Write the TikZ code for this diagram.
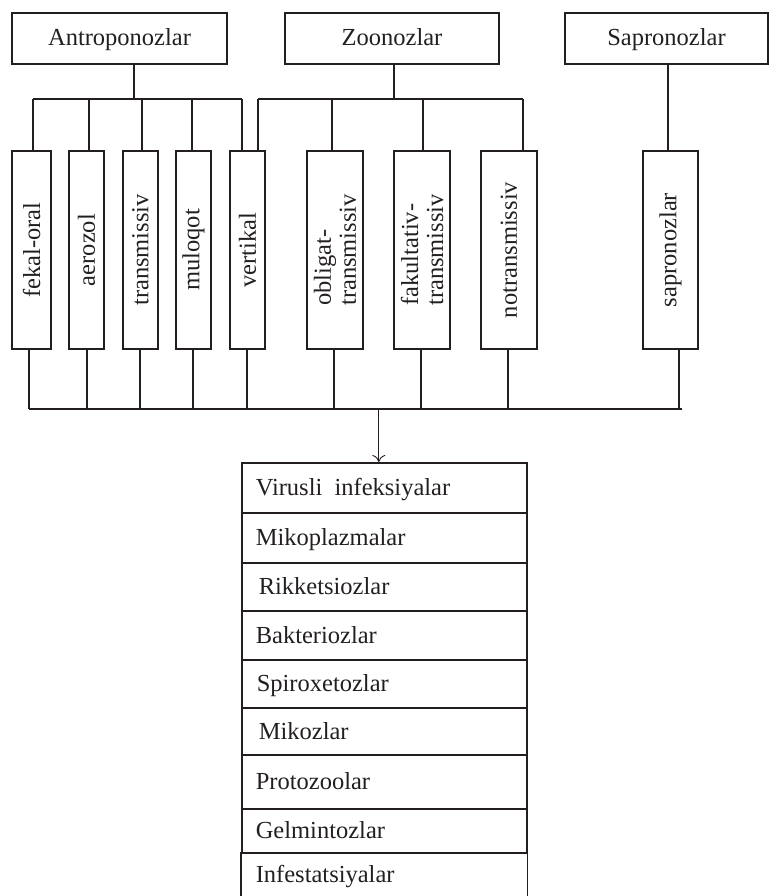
\documentclass[tikz,border=0pt]{standalone}
\usepackage{fontspec}
\setmainfont{Liberation Serif}
\usetikzlibrary{arrows.meta}
\definecolor{ink}{HTML}{231F20}
\begin{document}
\begin{tikzpicture}[x=1pt,y=-1pt,
  every node/.style={font=\fontsize{24.5}{25}\selectfont, text=ink},
  topbox/.style={draw=ink, line width=1.6pt, minimum height=51pt, inner sep=0pt, text height=18pt, text depth=3pt},
  vbox/.style={draw=ink, line width=1.6pt, minimum width=198pt, inner sep=0pt, rotate=90, align=left},
  rowbox/.style={draw=ink, line width=1.6pt, minimum width=285pt, text width=257pt, inner xsep=14pt, inner ysep=0pt, align=left, anchor=north west, text height=18pt, text depth=2pt},
  conn/.style={draw=ink, line width=1.6pt},
  arr/.style={draw=ink, line width=0.9pt, -{To[length=7pt,width=13pt]}}
]
\useasboundingbox (0,0) rectangle (769,896);

% top boxes
\node[topbox, minimum width=215pt] (A) at (119.5,38.5) {Antroponozlar};
\node[topbox, minimum width=214pt] (Z) at (392,38.5) {Zoonozlar};
\node[topbox, minimum width=203pt] (S) at (666.5,38.5) {Sapronozlar};

% vertical boxes (minimum height = box width after rotation)
\node[vbox, minimum height=39pt] (fek) at (31.5,250) {fekal-oral};
\node[vbox, minimum height=35pt] (aer) at (86.5,250) {aerozol};
\node[vbox, minimum height=35pt] (tra) at (140.5,250) {transmissiv};
\node[vbox, minimum height=35pt] (mul) at (193.5,250) {muloqot};
\node[vbox, minimum height=35pt] (ver) at (247.5,250) {vertikal};
\node[vbox, minimum height=56pt] (obl) at (335,250) {obligat-\\transmissiv};
\node[vbox, minimum height=56pt] (fak) at (422,250) {fakultativ-\\transmissiv};
\node[vbox, minimum height=56pt] (not) at (509,250) {notransmissiv};
\node[vbox, minimum height=55pt] (sap) at (670.5,250) {sapronozlar};

% bus coordinates
\coordinate (busA) at (0,99);
\coordinate (busB) at (0,409);

% Antroponozlar tree
\draw[conn] ([xshift=14.5pt]A.south) -- ([xshift=14.5pt]A.south |- busA);
\draw[conn] ([xshift=1.5pt]fek.east |- busA) -- ([xshift=-5.5pt]ver.east |- busA);
\draw[conn] ([xshift=1.5pt]fek.east |- busA) -- ([xshift=1.5pt]fek.east);
\draw[conn] ([xshift=2.5pt]aer.east |- busA) -- ([xshift=2.5pt]aer.east);
\draw[conn] ([xshift=1.5pt]tra.east |- busA) -- ([xshift=1.5pt]tra.east);
\draw[conn] ([xshift=-1.5pt]mul.east |- busA) -- ([xshift=-1.5pt]mul.east);
\draw[conn] ([xshift=-5.5pt]ver.east |- busA) -- ([xshift=-5.5pt]ver.east);

% Zoonozlar tree
\draw[conn] ([xshift=2pt]Z.south) -- ([xshift=2pt]Z.south |- busA);
\draw[conn] ([xshift=10.5pt]ver.east |- busA) -- ([xshift=14pt]not.east |- busA);
\draw[conn] ([xshift=10.5pt]ver.east |- busA) -- ([xshift=10.5pt]ver.east);
\draw[conn] ([xshift=-3pt]obl.east |- busA) -- ([xshift=-3pt]obl.east);
\draw[conn] ([xshift=1pt]fak.east |- busA) -- ([xshift=1pt]fak.east);
\draw[conn] ([xshift=14pt]not.east |- busA) -- ([xshift=14pt]not.east);

% Sapronozlar
\draw[conn] ([xshift=-2.5pt]sap.east) -- ([xshift=-2.5pt]sap.east |- S.south);

% bottom bus
\draw[conn] ([xshift=-2.5pt]fek.west |- busB) -- ([xshift=11.5pt]sap.west |- busB);
\draw[conn] ([xshift=-2.5pt]fek.west) -- ([xshift=-2.5pt]fek.west |- busB);
\draw[conn] ([xshift=0.5pt]aer.west) -- ([xshift=0.5pt]aer.west |- busB);
\draw[conn] ([xshift=-0.5pt]tra.west) -- ([xshift=-0.5pt]tra.west |- busB);
\draw[conn] ([xshift=-0.5pt]mul.west) -- ([xshift=-0.5pt]mul.west |- busB);
\draw[conn] ([xshift=-0.5pt]ver.west) -- ([xshift=-0.5pt]ver.west |- busB);
\draw[conn] ([xshift=-1pt]obl.west) -- ([xshift=-1pt]obl.west |- busB);
\draw[conn] ([xshift=-1pt]fak.west) -- ([xshift=-1pt]fak.west |- busB);
\draw[conn] ([xshift=-1pt]not.west) -- ([xshift=-1pt]not.west |- busB);
\draw[conn] ([xshift=8.5pt]sap.west) -- ([xshift=8.5pt]sap.west |- busB);

% list
\node[rowbox, minimum height=50pt] (L1) at (241,462) {Virusli\, infeksiyalar};
\node[rowbox, minimum height=50pt] (L2) at (241,512) {Mikoplazmalar};
\node[rowbox, minimum height=48pt] (L3) at (241,562) {\hspace{3pt}Rikketsiozlar};
\node[rowbox, minimum height=49pt] (L4) at (241,610) {Bakteriozlar};
\node[rowbox, minimum height=48pt] (L5) at (241,659) {\hspace{1pt}Spiroxetozlar};
\node[rowbox, minimum height=47pt] (L6) at (241,707) {\hspace{3pt}Mikozlar};
\node[rowbox, minimum height=54pt] (L7) at (241,754) {Protozoolar};
\node[rowbox, minimum height=44pt] (L8) at (241,808) {Gelmintozlar};
\node[rowbox, draw=none, minimum height=44pt] (L9) at (241,852) {Infestatsiyalar};
\draw[conn] (L9.north west) -- ([yshift=-2pt]L9.south west);
\draw[conn] (L9.north east) -- ([yshift=-2pt]L9.south east);

% arrow
\draw[arr] ([xshift=-5.5pt]L1.north |- busB) -- ([xshift=-5.5pt]L1.north);
\end{tikzpicture}
\end{document}
